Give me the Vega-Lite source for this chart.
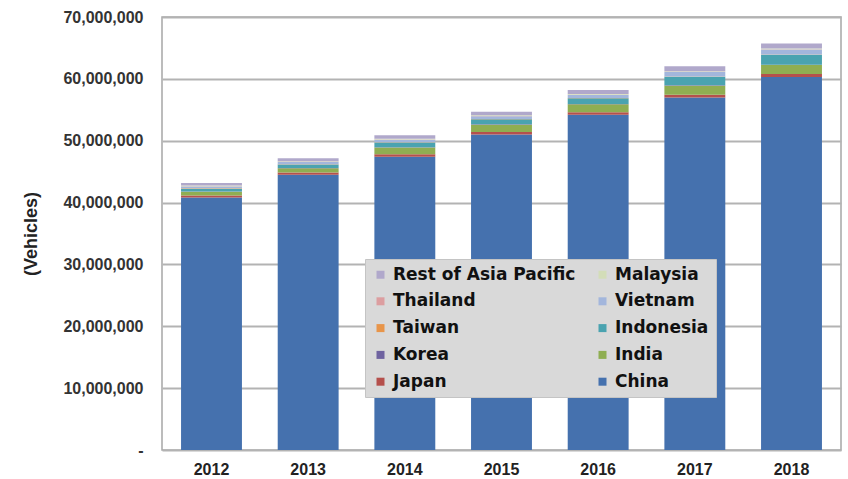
{
  "$schema": "https://vega.github.io/schema/vega-lite/v6.json",
  "width": 679,
  "height": 433,
  "autosize": "none",
  "padding": {"left": 162, "top": 17, "right": 7, "bottom": 29},
  "background": "#ffffff",
  "config": {
    "view": {"stroke": "#a6a6a6", "strokeWidth": 1.5},
    "font": "Liberation Sans"
  },
  "datasets": {
    "wide": [
      {"year": "2012", "China": 40800000, "Japan": 350000, "India": 600000, "Korea": 50000, "Indonesia": 450000, "Taiwan": 50000, "Vietnam": 300000, "Thailand": 50000, "Malaysia": 100000, "Rest of Asia Pacific": 400000},
      {"year": "2013", "China": 44500000, "Japan": 350000, "India": 700000, "Korea": 50000, "Indonesia": 550000, "Taiwan": 50000, "Vietnam": 350000, "Thailand": 50000, "Malaysia": 100000, "Rest of Asia Pacific": 450000},
      {"year": "2014", "China": 47400000, "Japan": 400000, "India": 1100000, "Korea": 50000, "Indonesia": 750000, "Taiwan": 50000, "Vietnam": 400000, "Thailand": 50000, "Malaysia": 100000, "Rest of Asia Pacific": 600000},
      {"year": "2015", "China": 51000000, "Japan": 400000, "India": 1200000, "Korea": 50000, "Indonesia": 800000, "Taiwan": 50000, "Vietnam": 450000, "Thailand": 50000, "Malaysia": 100000, "Rest of Asia Pacific": 600000},
      {"year": "2016", "China": 54200000, "Japan": 400000, "India": 1300000, "Korea": 50000, "Indonesia": 900000, "Taiwan": 50000, "Vietnam": 500000, "Thailand": 50000, "Malaysia": 100000, "Rest of Asia Pacific": 650000},
      {"year": "2017", "China": 57000000, "Japan": 450000, "India": 1450000, "Korea": 50000, "Indonesia": 1400000, "Taiwan": 50000, "Vietnam": 700000, "Thailand": 50000, "Malaysia": 100000, "Rest of Asia Pacific": 800000},
      {"year": "2018", "China": 60300000, "Japan": 500000, "India": 1450000, "Korea": 50000, "Indonesia": 1600000, "Taiwan": 50000, "Vietnam": 800000, "Thailand": 50000, "Malaysia": 100000, "Rest of Asia Pacific": 800000}
    ],
    "order": [
      {"region": "China", "k": 1},
      {"region": "Japan", "k": 2},
      {"region": "India", "k": 3},
      {"region": "Korea", "k": 4},
      {"region": "Indonesia", "k": 5},
      {"region": "Taiwan", "k": 6},
      {"region": "Vietnam", "k": 7},
      {"region": "Thailand", "k": 8},
      {"region": "Malaysia", "k": 9},
      {"region": "Rest of Asia Pacific", "k": 10}
    ]
  },
  "data": {"name": "wide"},
  "transform": [
    {"fold": ["China", "Japan", "India", "Korea", "Indonesia", "Taiwan", "Vietnam", "Thailand", "Malaysia", "Rest of Asia Pacific"], "as": ["region", "value"]},
    {"lookup": "region", "from": {"data": {"name": "order"}, "key": "region", "fields": ["k"]}}
  ],
  "mark": {"type": "bar"},
  "encoding": {
    "x": {
      "field": "year", "type": "ordinal",
      "scale": {"paddingInner": 0.37, "paddingOuter": 0.197},
      "axis": {"title": null, "labelAngle": 0, "ticks": false, "domain": false, "labelFontSize": 16, "labelFontWeight": "bold", "labelColor": "#222222", "labelPadding": 11, "grid": false}
    },
    "y": {
      "field": "value", "type": "quantitative", "stack": "zero",
      "scale": {"domain": [0, 70000000], "nice": false},
      "axis": {
        "title": "(Vehicles)", "titleFontSize": 18, "titleFontWeight": "bold", "titleColor": "#222222", "titlePadding": 22,
        "values": [0, 10000000, 20000000, 30000000, 40000000, 50000000, 60000000, 70000000],
        "labelExpr": "datum.value == 0 ? '-' : format(datum.value, ',')",
        "labelFontSize": 16, "labelFontWeight": "bold", "labelColor": "#333333", "labelPadding": 19,
        "ticks": false, "domain": false,
        "grid": true, "gridColor": "#b3b3b3", "gridWidth": 2
      }
    },
    "color": {
      "field": "region", "type": "nominal",
      "scale": {
        "domain": ["Rest of Asia Pacific", "Thailand", "Taiwan", "Korea", "Japan", "Malaysia", "Vietnam", "Indonesia", "India", "China"],
        "range": ["#b0a8cb", "#dc9ea0", "#e8954a", "#6f63a0", "#b5504c", "#d3ddb8", "#a3b6dc", "#4aa3b0", "#8fae52", "#4571ae"]
      },
      "legend": {
        "title": null, "orient": "none", "legendX": 203, "legendY": 242,
        "columns": 2, "gridAlign": "all", "columnPadding": 18, "rowPadding": 8.8,
        "padding": 7, "fillColor": "#d9d9d9", "strokeColor": "#c4c4c4",
        "symbolType": "square", "symbolSize": 64, "symbolStrokeWidth": 0, "symbolOpacity": 1,
        "labelFont": "DejaVu Sans", "labelFontSize": 17, "labelFontWeight": "bold", "labelColor": "#111111", "labelOffset": 4, "labelLimit": 300
      }
    },
    "order": {"field": "k", "type": "quantitative", "sort": "ascending"}
  }
}
